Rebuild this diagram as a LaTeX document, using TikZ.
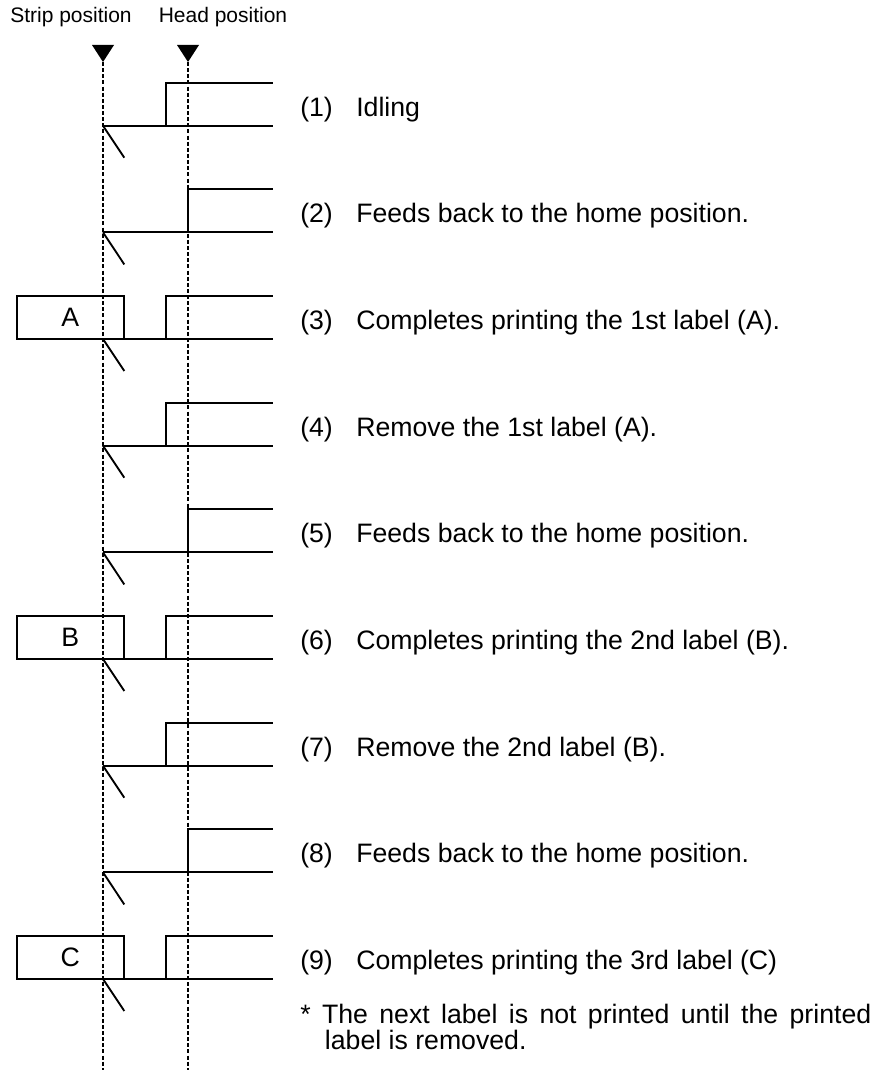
\documentclass[tikz,border=0pt]{standalone}
\usepackage{fontspec}
\setmainfont{Liberation Sans}
\usepackage{tikz}

\begin{document}
\begin{tikzpicture}[
    x=0.75pt, y=-0.75pt,
    tape/.style={line width=1.4pt, line join=miter},
    guide/.style={line width=1pt, dash pattern=on 3pt off 1.6pt},
    pointer/.style={fill=black},
    poslabel/.style={inner sep=0pt, font=\fontsize{15.75}{18}\selectfont},
    num/.style={anchor=base west, inner sep=0pt, font=\fontsize{20}{22}\selectfont},
    labelbox/.style={draw, line width=1.4pt, minimum width=80.5pt, minimum height=32.25pt, inner sep=0pt, font=\fontsize{20}{22}\selectfont},
    note/.style={anchor=base west, inner sep=0pt, text width=428.25pt, align=justify, font=\fontsize{20}{17.5}\selectfont}
]
\useasboundingbox (0,0) rectangle (886,1070);

% Position markers
\node[poslabel] (striplabel) at (71,17) {Strip position};
\node[poslabel] (headlabel) at (223,17) {Head position};
\fill[pointer] (92,45) -- (114,45) -- (103,62) -- cycle;
\fill[pointer] (177,45) -- (199,45) -- (188,62) -- cycle;
\draw[guide] (103,62) -- (103,1070);
\draw[guide] (188,62) -- (188,1070);

% (1)
\draw[tape] (103,125.7) -- (273,125.7) (166.3,125.7) |- (273,82.7);
\draw[tape] (103,125.7) -- ++(21.3,32);
\node[num] (n1) at (300,116.2) {(1)};
\node[num] (d1) at (356,116.2) {Idling};

% (2)
\draw[tape] (103,232.4) -- (273,232.4) (188,232.4) |- (273,189.4);
\draw[tape] (103,232.4) -- ++(21.3,32);
\node[num] (n2) at (300,222.9) {(2)};
\node[num] (d2) at (356,222.9) {Feeds back to the home position.};

% (3)
\draw[tape] (103,339) -- (273,339) (166.3,339) |- (273,296);
\node[labelbox] (boxA) at (70.3,317.5) {A};
\draw[tape] (103,339) -- ++(21.3,32);
\node[num] (n3) at (300,329.5) {(3)};
\node[num] (d3) at (356,329.5) {Completes printing the 1st label (A).};

% (4)
\draw[tape] (103,445.7) -- (273,445.7) (166.3,445.7) |- (273,402.7);
\draw[tape] (103,445.7) -- ++(21.3,32);
\node[num] (n4) at (300,436.2) {(4)};
\node[num] (d4) at (356,436.2) {Remove the 1st label (A).};

% (5)
\draw[tape] (103,552.4) -- (273,552.4) (188,552.4) |- (273,509.4);
\draw[tape] (103,552.4) -- ++(21.3,32);
\node[num] (n5) at (300,542.9) {(5)};
\node[num] (d5) at (356,542.9) {Feeds back to the home position.};

% (6)
\draw[tape] (103,659) -- (273,659) (166.3,659) |- (273,616);
\node[labelbox] (boxB) at (70.3,637.5) {B};
\draw[tape] (103,659) -- ++(21.3,32);
\node[num] (n6) at (300,649.5) {(6)};
\node[num] (d6) at (356,649.5) {Completes printing the 2nd label (B).};

% (7)
\draw[tape] (103,765.7) -- (273,765.7) (166.3,765.7) |- (273,722.7);
\draw[tape] (103,765.7) -- ++(21.3,32);
\node[num] (n7) at (300,756.2) {(7)};
\node[num] (d7) at (356,756.2) {Remove the 2nd label (B).};

% (8)
\draw[tape] (103,872.4) -- (273,872.4) (188,872.4) |- (273,829.4);
\draw[tape] (103,872.4) -- ++(21.3,32);
\node[num] (n8) at (300,862.9) {(8)};
\node[num] (d8) at (356,862.9) {Feeds back to the home position.};

% (9)
\draw[tape] (103,979) -- (273,979) (166.3,979) |- (273,936);
\node[labelbox] (boxC) at (70.3,957.5) {C};
\draw[tape] (103,979) -- ++(21.3,32);
\node[num] (n9) at (300,969.5) {(9)};
\node[num] (d9) at (356,969.5) {Completes printing the 3rd label (C)};

% Note
\node[note] (footnote) at (300,1023) {\tolerance=10000\hyphenpenalty=10000\hangindent=18.5pt\hangafter=1 * The next label is not printed until the printed label is removed.\par};

\end{tikzpicture}
\end{document}
